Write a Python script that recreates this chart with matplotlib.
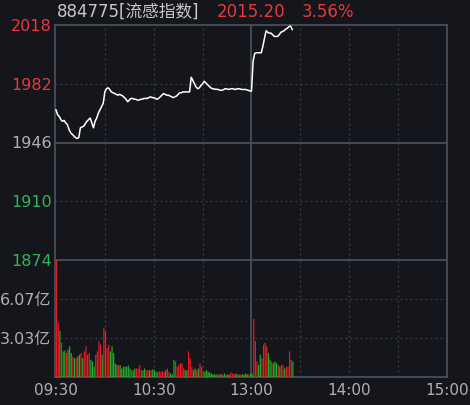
import matplotlib
matplotlib.use("Agg")
import matplotlib.pyplot as plt
import numpy as np

plt.rcParams['font.family'] = ['DejaVu Sans', 'Noto Sans CJK SC']

title_code = "884775[流感指数]"
last_price = "2015.20"
change_pct = "3.56%"

price_ticks = [1874, 1910, 1946, 1982, 2018]
price_tick_colors = ['#2fb45a', '#2fb45a', '#b0b0b0', '#e8383d', '#e8383d']
vol_ticks = [3.03, 6.07]
vol_tick_labels = ["3.03亿", "6.07亿"]
time_ticks = [0, 60, 120, 180, 240]
time_labels = ["09:30", "10:30", "13:00", "14:00", "15:00"]

price = [
    1966, 1963, 1962, 1960, 1959, 1959.5, 1958, 1957, 1954, 1952,
    1951, 1950, 1949, 1948.5, 1949, 1955, 1955.5, 1956, 1957.5, 1959,
    1960, 1961, 1958, 1955, 1959, 1961, 1964, 1966, 1968, 1970,
    1977, 1979, 1979.5, 1978.5, 1977, 1976.5, 1976, 1975.5, 1975, 1975.5,
    1975, 1974.5, 1973.5, 1972.5, 1971, 1972, 1973, 1973, 1972.5, 1972.5,
    1972, 1972, 1972.5, 1972.5, 1973, 1973, 1973, 1973.5, 1974, 1973.5,
    1973.5, 1973, 1972.5, 1973, 1974, 1975, 1976, 1975.5, 1975, 1975,
    1974.5, 1974, 1973.5, 1974, 1974.5, 1975.5, 1976.5, 1976.5, 1977, 1977,
    1977, 1977, 1977, 1986, 1984, 1982, 1980, 1979, 1979.5, 1981,
    1982, 1983.5, 1982.5, 1981.5, 1980.5, 1979.5, 1979, 1978.8, 1978.6, 1978.6,
    1978.3, 1978, 1978, 1978.5, 1979, 1978.8, 1978.5, 1978.8, 1979, 1978.8,
    1978.5, 1978.8, 1979, 1978.8, 1978.5, 1978.5, 1978.5, 1978.3, 1978, 1977.6,
    1977.5, 1996, 2000.6, 2001, 2001, 2001, 2001, 2005, 2010, 2014.5,
    2013.5, 2013, 2013, 2012, 2011, 2011, 2011, 2012, 2013.5, 2014,
    2014.5, 2015.5, 2016, 2017, 2017.4, 2015.2,
]

volume = [
    9.1, 4.25, 3.59, 2.66, 1.99, 2.05, 1.86, 2.13, 2.39, 1.86,
    1.59, 1.46, 1.46, 1.59, 1.73, 1.86, 1.46, 1.99, 2.39, 1.73,
    1.86, 1.33, 1.20, 0.80, 1.73, 1.99, 2.79, 2.52, 1.73, 3.85,
    3.59, 2.26, 2.52, 1.99, 2.39, 1.86, 1.06, 0.93, 0.93, 0.93,
    0.66, 0.80, 0.80, 0.80, 0.88, 0.66, 0.53, 0.53, 0.66, 0.66,
    0.66, 0.93, 0.53, 0.53, 0.66, 0.53, 0.53, 0.53, 0.53, 0.58,
    0.53, 0.40, 0.40, 0.45, 0.40, 0.45, 0.40, 0.53, 0.66, 0.40,
    0.27, 0.19, 1.33, 1.20, 0.80, 0.93, 1.06, 1.06, 0.66, 0.53,
    0.53, 1.99, 1.46, 0.80, 0.53, 0.66, 0.53, 0.66, 1.06, 0.80,
    0.40, 0.40, 0.53, 0.40, 0.35, 0.27, 0.21, 0.21, 0.19, 0.21,
    0.19, 0.21, 0.19, 0.27, 0.19, 0.19, 0.19, 0.35, 0.27, 0.21,
    0.27, 0.21, 0.19, 0.19, 0.21, 0.19, 0.27, 0.21, 0.19, 0.21,
    0.27,
    4.52, 2.79, 1.20, 0.93, 1.73, 1.46, 2.52, 2.66, 2.39, 1.86,
    1.33, 1.20, 1.06, 1.20, 1.06, 0.93, 0.80, 0.93, 0.93, 0.66,
    0.80, 0.80, 1.99, 1.33, 1.20,
]

vol_dir = (
    "rrgrggrggg" "rgrggrgrrr" "rgggrrrrgr" "rrrgggggrg"
    "ggggggrggr" "rrrggrrgrg" "ggrrrrrgrr" "gggrrrrrrg"
    "grrrggrgrr" "rggggggggr" "ggrgrggrrr" "grgrggggrg"
    "g"
    "rrrggrrrrg" "grgggrgrrg" "rrrrg"
)

BG = '#14161b'
GRID = '#3c3f46'
LINE = '#50535b'
RED = '#ee1c22'
GREEN = '#22b02a'

fig = plt.figure(figsize=(4.70, 4.05), dpi=100, facecolor=BG)
L, R = 55 / 470, 447 / 470
ax = fig.add_axes([L, 1 - 260 / 405, R - L, (260 - 25) / 405], facecolor=BG)
axv = fig.add_axes([L, 1 - 377 / 405, R - L, (377 - 260) / 405], facecolor=BG)

t = np.arange(len(price))
tv = np.arange(len(volume))

for a in (ax, axv):
    a.set_xlim(-0.6, 240)
    for x in [30, 60, 90, 150, 180, 210]:
        a.axvline(x, color=GRID, lw=0.9, ls=(0, (1.5, 2.5)), zorder=0)
    a.axvline(120, color=LINE, lw=1.2, zorder=0)
    for s in a.spines.values():
        s.set_color(LINE)
        s.set_linewidth(1.2)
    a.tick_params(length=0)

# price panel
ax.set_ylim(1874, 2018)
for y in [1910, 1982]:
    ax.axhline(y, color=GRID, lw=0.9, ls=(0, (1.5, 2.5)), zorder=0)
ax.axhline(1946, color=LINE, lw=1.2, zorder=0)
ax.plot(t, price, color='white', lw=1.1, zorder=3)
ax.set_xticks([])
ax.set_yticks(price_ticks)
ax.set_yticklabels([str(p) for p in price_ticks], fontsize=11.5)
for lab, c in zip(ax.get_yticklabels(), price_tick_colors):
    lab.set_color(c)
ax.tick_params(axis='y', pad=2.5)
ax.spines['bottom'].set_visible(False)

# volume panel
axv.set_ylim(0, 9.1)
for y in vol_ticks:
    axv.axhline(y, color=GRID, lw=0.9, ls=(0, (1.5, 2.5)), zorder=0)
colors = [RED if d == 'r' else GREEN for d in vol_dir]
axv.vlines(tv + 0.4, 0, volume, colors=colors, lw=0.85, zorder=3, snap=False)
axv.set_yticks(vol_ticks)
axv.set_yticklabels(vol_tick_labels, fontsize=11.5, color='#b0b0b0')
axv.tick_params(axis='y', pad=2.5)
axv.set_xticks(time_ticks)
axv.set_xticklabels(time_labels, fontsize=11, color='#b0b0b0')
axv.tick_params(axis='x', pad=4)

# title
fig.text(57 / 470, 1 - 12 / 405, title_code, color='#c8c8c8', fontsize=12, va='center', ha='left')
fig.text(217 / 470, 1 - 12 / 405, last_price, color='#e8383d', fontsize=12, va='center', ha='left')
fig.text(302 / 470, 1 - 12 / 405, change_pct, color='#e8383d', fontsize=12, va='center', ha='left')

fig.savefig('out.png', dpi=100, facecolor=BG)
